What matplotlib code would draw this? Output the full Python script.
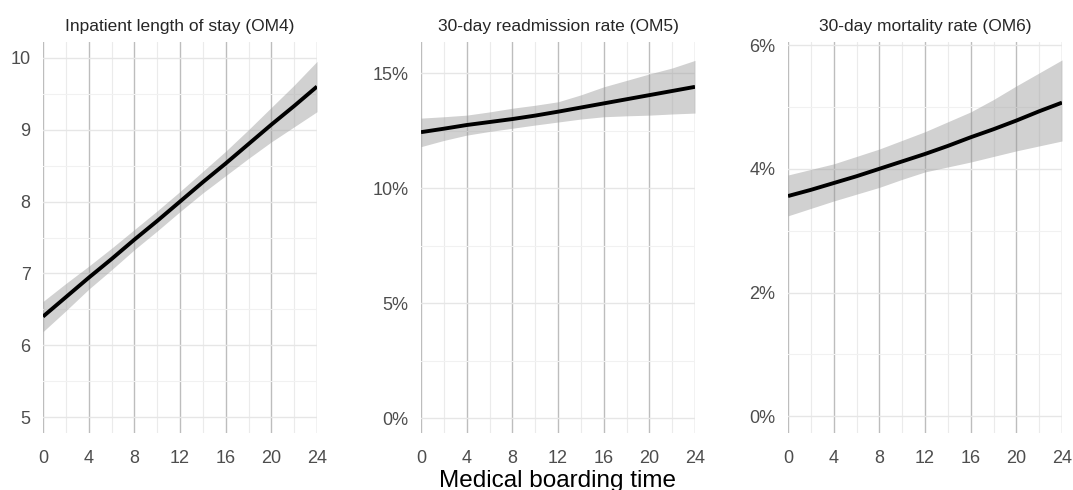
import numpy as np
import matplotlib
matplotlib.use("Agg")
import matplotlib.pyplot as plt
from matplotlib.ticker import FuncFormatter, MultipleLocator

plt.rcParams['font.family'] = ['Liberation Sans', 'DejaVu Sans']

# boarding time (hours)
hours = [0, 2, 4, 6, 8, 10, 12, 14, 16, 18, 20, 22, 24]

# OM4: inpatient length of stay (days)
los_fit = [6.40, 6.67, 6.94, 7.20, 7.47, 7.73, 8.00, 8.27, 8.53, 8.80, 9.07, 9.33, 9.60]
los_lo = [6.19, 6.48, 6.78, 7.05, 7.33, 7.59, 7.86, 8.12, 8.36, 8.60, 8.83, 9.04, 9.25]
los_hi = [6.61, 6.86, 7.10, 7.35, 7.61, 7.87, 8.14, 8.42, 8.70, 9.00, 9.31, 9.62, 9.95]

# OM5: 30-day readmission rate (%)
readm_fit = [12.43, 12.58, 12.74, 12.87, 13.00, 13.15, 13.32, 13.50, 13.68, 13.86, 14.04, 14.22, 14.40]
readm_lo = [11.80, 12.07, 12.30, 12.46, 12.60, 12.74, 12.87, 13.00, 13.10, 13.14, 13.17, 13.22, 13.26]
readm_hi = [13.04, 13.10, 13.17, 13.31, 13.47, 13.60, 13.75, 14.05, 14.40, 14.68, 14.96, 15.22, 15.55]

# OM6: 30-day mortality rate (%)
mort_fit = [3.56, 3.66, 3.77, 3.88, 4.00, 4.12, 4.24, 4.37, 4.51, 4.64, 4.78, 4.93, 5.07]
mort_lo = [3.24, 3.36, 3.48, 3.59, 3.70, 3.83, 3.95, 4.03, 4.11, 4.20, 4.29, 4.37, 4.45]
mort_hi = [3.90, 3.99, 4.08, 4.20, 4.32, 4.46, 4.60, 4.76, 4.92, 5.12, 5.34, 5.55, 5.76]

titles = ["Inpatient length of stay (OM4)",
          "30-day readmission rate (OM5)",
          "30-day mortality rate (OM6)"]
xlabel = "Medical boarding time"

panels = [
    (los_fit, los_lo, los_hi, (4.78, 10.22), 1.0, 0.5, None),
    (readm_fit, readm_lo, readm_hi, (-0.65, 16.35), 5.0, 2.5, "pct"),
    (mort_fit, mort_lo, mort_hi, (-0.27, 6.05), 2.0, 1.0, "pct"),
]

W, H = 1073, 490
fig = plt.figure(figsize=(W / 100, H / 100), dpi=100)
lefts = [43, 421, 788]
ax_w = 274
top_px, bot_px = 42, 433

for i, (fit, lo, hi, ylim, major, minor, fmt) in enumerate(panels):
    ax = fig.add_axes([lefts[i] / W, 1 - bot_px / H, ax_w / W, (bot_px - top_px) / H])
    ax.set_xlim(0, 24)
    ax.set_ylim(*ylim)

    ax.xaxis.set_major_locator(MultipleLocator(4))
    ax.xaxis.set_minor_locator(MultipleLocator(2))
    ax.yaxis.set_major_locator(MultipleLocator(major))
    ax.yaxis.set_minor_locator(MultipleLocator(minor))
    if fmt == "pct":
        ax.yaxis.set_major_formatter(FuncFormatter(lambda v, p: f"{v:.0f}%"))

    # ggplot-like grid
    ax.grid(which='major', axis='x', color='#bdbdbd', linewidth=1.0)
    ax.grid(which='minor', axis='x', color='#ebebeb', linewidth=0.8)
    ax.grid(which='major', axis='y', color='#e6e6e6', linewidth=1.0)
    ax.grid(which='minor', axis='y', color='#f1f1f1', linewidth=0.8)
    ax.set_axisbelow(True)

    ax.fill_between(hours, lo, hi, color='#999999', alpha=0.45, linewidth=0)
    ax.plot(hours, fit, color='black', linewidth=2.8, solid_capstyle='butt')

    for s in ax.spines.values():
        s.set_visible(False)
    ax.tick_params(which='both', length=0)
    ax.tick_params(axis='both', labelsize=13, labelcolor='#4d4d4d')
    ax.tick_params(axis='x', pad=12)
    ax.tick_params(axis='y', pad=9)
    ax.set_title(titles[i], fontsize=12.5, color='#262626', pad=8)

fig.text((421 + 694) / 2 / W, 1 - 470 / H, xlabel, ha='center', va='top',
         fontsize=17.5, color='black')

fig.savefig("out.png", dpi=100, facecolor='white')
